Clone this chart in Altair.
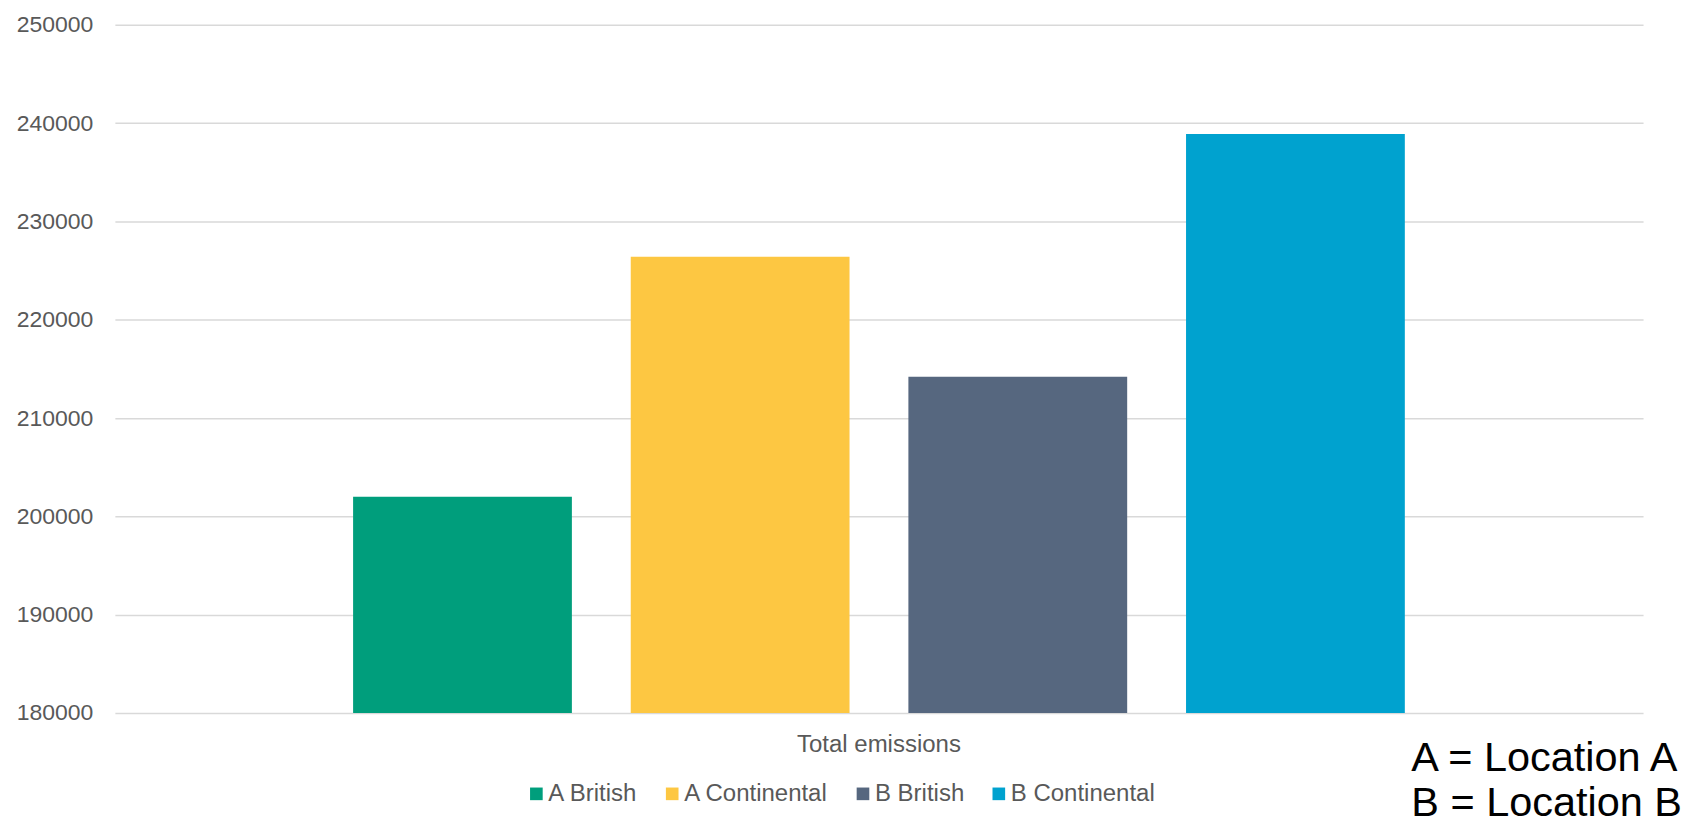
import altair as alt
import pandas as pd

category = "Total emissions"
series = ["A British", "A Continental", "B British", "B Continental"]
values = [202000, 226400, 214200, 238900]
colors = ["#009E7C", "#FDC742", "#56677F", "#00A2CF"]
y_ticks = [180000, 190000, 200000, 210000, 220000, 230000, 240000, 250000]
notes = ["A = Location A", "B = Location B"]

FONT = "Liberation Sans"
GREY = "#595959"

df = pd.DataFrame({"category": [category] * len(series), "series": series, "value": values})

bars = alt.Chart(df).mark_bar().encode(
    x=alt.X("category:N", title=None,
            scale=alt.Scale(paddingInner=0, paddingOuter=0),
            axis=alt.Axis(labelAngle=0, ticks=False, tickSize=0, domain=False, grid=False,
                          labelPadding=20, labelFontSize=24, labelColor=GREY, labelFont=FONT)),
    xOffset=alt.XOffset("series:N", sort=series,
                        scale=alt.Scale(paddingInner=0.212, paddingOuter=0.858)),
    y=alt.Y("value:Q", title=None,
            scale=alt.Scale(domain=[y_ticks[0], y_ticks[-1]], zero=False, nice=False),
            axis=alt.Axis(values=y_ticks, format="d", ticks=False, tickSize=0, domain=False,
                          labelPadding=22, labelFontSize=23, labelColor=GREY, labelFont=FONT,
                          grid=True, gridColor="#D9D9D9", gridWidth=1.5)),
    y2=alt.datum(y_ticks[0]),
    color=alt.Color("series:N", sort=series,
                    scale=alt.Scale(domain=series, range=colors),
                    legend=alt.Legend(title=None, orient="none", legendX=410, legendY=758,
                                      direction="horizontal", symbolType="square",
                                      symbolSize=160, symbolStrokeWidth=0,
                                      labelFontSize=24, labelColor=GREY, labelFont=FONT,
                                      labelOffset=0, columnPadding=22, padding=0)),
)

note1 = alt.Chart(pd.DataFrame({"note": [notes[0]]})).mark_text(
    align="left", baseline="alphabetic", fontSize=41.5, font=FONT, color="black"
).encode(text="note:N", x=alt.value(1298), y=alt.value(747.5))

note2 = alt.Chart(pd.DataFrame({"note": [notes[1]]})).mark_text(
    align="left", baseline="alphabetic", fontSize=41.5, font=FONT, color="black"
).encode(text="note:N", x=alt.value(1298), y=alt.value(792))

chart = alt.layer(bars, note1, note2).properties(
    width=1530, height=689,
    background="white",
    autosize=alt.AutoSizeParams(type="none"),
    padding={"left": 107, "top": 16.3, "right": 43, "bottom": 114},
).configure_view(stroke=None)

chart.save("out.html", embed_options={"renderer": "svg", "actions": False})
